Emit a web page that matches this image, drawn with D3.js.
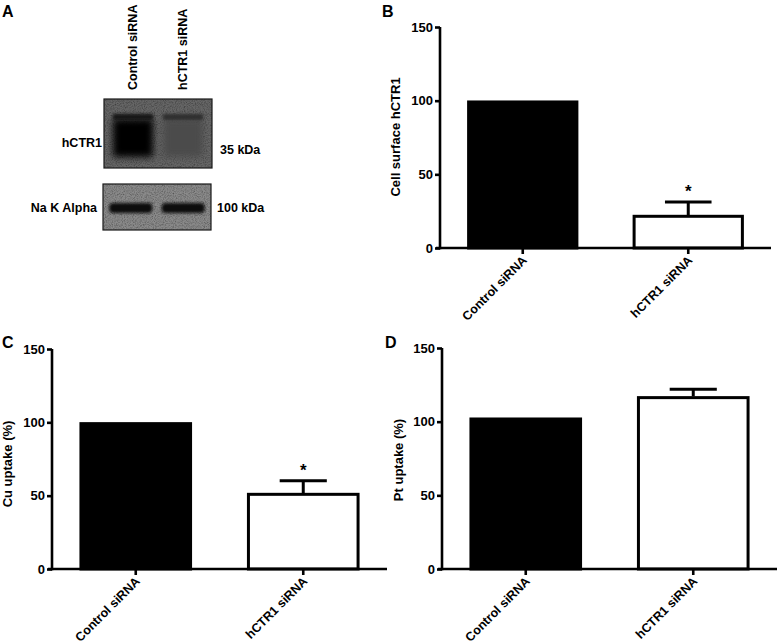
<!DOCTYPE html>
<html>
<head>
<meta charset="utf-8">
<script src="https://cdn.jsdelivr.net/npm/d3@7"></script>
<style>
  html, body { margin: 0; padding: 0; background: #fff; }
  svg { display: block; }
  text { font-family: Arial, "Liberation Sans", Helvetica, sans-serif; font-weight: bold; fill: #000; }
</style>
</head>
<body>
<svg id="chart" width="777" height="644"></svg>
<script>
// ---------------- data ----------------
const categories = ["Control siRNA", "hCTR1 siRNA"];
const yTickValues = [0, 50, 100, 150];

const surfaceMeans = [100, 22.4];
const surfaceErr   = [0, 8.8];
const surfaceSig   = ["", "*"];

const cuMeans = [100, 51.8];
const cuErr   = [0, 8.3];
const cuSig   = ["", "*"];

const ptMeans = [102.7, 117.2];
const ptErr   = [0, 4.8];
const ptSig   = ["", ""];

// western blot (panel A)
const blotLanes = ["Control siRNA", "hCTR1 siRNA"];
const hctr1Intensity = [1.0, 0.45];
const nakIntensity   = [1.0, 1.0];
const blotRows = ["hCTR1", "Na K Alpha"];
const blotSizes = ["35 kDa", "100 kDa"];

// ---------------- drawing ----------------
const svg = d3.select("#chart");
const defs = svg.append("defs");

const noise = defs.append("filter").attr("id", "noise")
  .attr("x", 0).attr("y", 0).attr("width", 1).attr("height", 1);
noise.append("feTurbulence").attr("type", "fractalNoise")
  .attr("baseFrequency", "0.9").attr("numOctaves", 2).attr("seed", 3).attr("result", "t");
noise.append("feColorMatrix").attr("in", "t").attr("type", "matrix")
  .attr("values", "0 0 0 0 0  0 0 0 0 0  0 0 0 0 0  0 0 0 -1.2 0.75").attr("result", "n");
noise.append("feComposite").attr("in", "n").attr("in2", "SourceGraphic").attr("operator", "in").attr("result", "nn");
const nm = noise.append("feMerge");
nm.append("feMergeNode").attr("in", "SourceGraphic");
nm.append("feMergeNode").attr("in", "nn");

const blur = defs.append("filter").attr("id", "blur")
  .attr("x", "-30%").attr("y", "-60%").attr("width", "160%").attr("height", "220%");
blur.append("feGaussianBlur").attr("stdDeviation", 3.5);
const blur2 = defs.append("filter").attr("id", "blur2")
  .attr("x", "-30%").attr("y", "-60%").attr("width", "160%").attr("height", "220%");
blur2.append("feGaussianBlur").attr("stdDeviation", 1.8);

// panel letters
[["A", 2, 17], ["B", 382, 17], ["C", 2, 348], ["D", 385, 348]].forEach(([t, x, y]) => {
  svg.append("text").attr("x", x).attr("y", y).attr("font-size", 16).text(t);
});

// ---- Panel A: blot ----
(function () {
  const gA = svg.append("g");
  const upper = { x: 104, y: 99, w: 108, h: 69 };
  const lower = { x: 103, y: 184, w: 108, h: 46 };
  const laneU = d3.scaleBand().domain(blotLanes).range([upper.x, upper.x + upper.w]).paddingInner(0.12).paddingOuter(0.14);
  const laneL = d3.scaleBand().domain(blotLanes).range([lower.x, lower.x + lower.w]).paddingInner(0.14).paddingOuter(0.1);

  // lane labels
  blotLanes.forEach(l => {
    const cx = laneU(l) + laneU.bandwidth() / 2;
    gA.append("text").attr("transform", `translate(${cx + 4},90) rotate(-90)`)
      .attr("font-size", 12.5).attr("text-anchor", "start").text(l);
  });

  // upper blot
  const clipU = defs.append("clipPath").attr("id", "clipU");
  clipU.append("rect").attr("x", upper.x).attr("y", upper.y).attr("width", upper.w).attr("height", upper.h);
  const gu = gA.append("g").attr("clip-path", "url(#clipU)");
  gu.append("rect").attr("x", upper.x).attr("y", upper.y).attr("width", upper.w).attr("height", upper.h)
    .attr("fill", "#666").attr("filter", "url(#noise)");
  blotLanes.forEach((l, i) => {
    const x = laneU(l), w = laneU.bandwidth();
    const k = hctr1Intensity[i];
    // smear
    gu.append("rect").attr("x", x + 2).attr("y", upper.y + 20).attr("width", w - 4).attr("height", 38)
      .attr("fill", d3.interpolateRgb("#666", "#050505")(k * (i === 0 ? 1 : 0.6)))
      .attr("filter", "url(#blur)");
    // top band
    gu.append("rect").attr("x", x + 2).attr("y", upper.y + 15).attr("width", w - 4).attr("height", 6)
      .attr("fill", d3.interpolateRgb("#666", "#151515")(Math.min(1, k * 1.5)))
      .attr("filter", "url(#blur2)");
  });
  gA.append("rect").attr("x", upper.x).attr("y", upper.y).attr("width", upper.w).attr("height", upper.h)
    .attr("fill", "none").attr("stroke", "#1a1a1a").attr("stroke-width", 1.2);

  // lower blot
  const clipL = defs.append("clipPath").attr("id", "clipL");
  clipL.append("rect").attr("x", lower.x).attr("y", lower.y).attr("width", lower.w).attr("height", lower.h);
  const gl = gA.append("g").attr("clip-path", "url(#clipL)");
  gl.append("rect").attr("x", lower.x).attr("y", lower.y).attr("width", lower.w).attr("height", lower.h)
    .attr("fill", "#8a8a8a").attr("filter", "url(#noise)");
  blotLanes.forEach((l, i) => {
    const x = laneL(l), w = laneL.bandwidth();
    gl.append("rect").attr("x", x + 1).attr("y", lower.y + 19).attr("width", w - 2).attr("height", 10)
      .attr("rx", 4)
      .attr("fill", d3.interpolateRgb("#8a8a8a", "#0a0a0a")(nakIntensity[i]))
      .attr("filter", "url(#blur2)");
  });
  gA.append("rect").attr("x", lower.x).attr("y", lower.y).attr("width", lower.w).attr("height", lower.h)
    .attr("fill", "none").attr("stroke", "#1a1a1a").attr("stroke-width", 1.2);

  // row labels
  gA.append("text").attr("x", 102).attr("y", 147).attr("text-anchor", "end").attr("font-size", 12.5).text(blotRows[0]);
  gA.append("text").attr("x", 97).attr("y", 212).attr("text-anchor", "end").attr("font-size", 12.5).text(blotRows[1]);
  gA.append("text").attr("x", 220).attr("y", 154).attr("font-size", 12.5).text(blotSizes[0]);
  gA.append("text").attr("x", 217).attr("y", 212).attr("font-size", 12.5).text(blotSizes[1]);
})();

// ---- bar panels ----
function barPanel(o, means, errs, sig, label) {
  const g = svg.append("g");
  const y = d3.scaleLinear().domain([0, 150]).range([o.y0, o.y1]);
  const x = d3.scaleBand().domain(categories).range([o.ax, o.xEnd]).paddingInner(0.33).paddingOuter(0.165);
  const lw = 2.6;

  // bars
  categories.forEach((c, i) => {
    const filled = i === 0;
    const bx = x(c), bw = x.bandwidth();
    const top = y(means[i]);
    g.append("rect")
      .attr("x", bx + lw / 2).attr("y", top + lw / 2)
      .attr("width", bw - lw).attr("height", o.y0 - top - lw / 2)
      .attr("fill", filled ? "#000" : "#fff")
      .attr("stroke", "#000").attr("stroke-width", lw + 0.4);
    if (errs[i] > 0) {
      const cx = bx + bw / 2;
      const yt = y(means[i] + errs[i]);
      g.append("line").attr("x1", cx).attr("x2", cx).attr("y1", top).attr("y2", yt)
        .attr("stroke", "#000").attr("stroke-width", lw + 0.4);
      g.append("line").attr("x1", cx - bw * 0.21).attr("x2", cx + bw * 0.21).attr("y1", yt).attr("y2", yt)
        .attr("stroke", "#000").attr("stroke-width", lw + 0.4);
    }
    if (sig[i]) {
      g.append("text").attr("x", bx + bw / 2).attr("y", y(means[i] + errs[i]) - 5)
        .attr("text-anchor", "middle").attr("font-size", 17).text(sig[i]);
    }
  });

  // y axis
  const ya = g.append("g").attr("transform", `translate(${o.ax},0)`)
    .call(d3.axisLeft(y).tickValues(yTickValues).tickSize(5).tickSizeOuter(0).tickPadding(2).tickFormat(d3.format("d")));
  ya.select(".domain").attr("stroke-width", lw).attr("d", `M0,${o.y0 + lw / 2}V${o.y1}`);
  ya.selectAll(".tick line").attr("stroke-width", lw);
  ya.selectAll(".tick text").attr("font-size", 13).attr("font-family", "Arial, 'Liberation Sans', sans-serif").attr("font-weight", "bold");

  // x axis
  const xa = g.append("g").attr("transform", `translate(0,${o.y0})`)
    .call(d3.axisBottom(x).tickSize(6).tickSizeOuter(0));
  xa.select(".domain").attr("stroke-width", lw).attr("d", `M${o.ax - 4},0H${o.xEnd}`);
  xa.selectAll(".tick line").attr("stroke-width", lw);
  xa.selectAll(".tick text")
    .attr("font-size", 12.5).attr("font-family", "Arial, 'Liberation Sans', sans-serif").attr("font-weight", "bold")
    .attr("text-anchor", "end").attr("dy", null).attr("y", 0)
    .attr("transform", "translate(5,13) rotate(-45)");

  // y label
  g.append("text").attr("transform", `translate(${o.lx},${o.ly}) rotate(-90)`)
    .attr("text-anchor", "middle").attr("dominant-baseline", "central")
    .attr("font-size", 13).text(label);
}

barPanel({ ax: 440, xEnd: 771, y0: 248, y1: 27, lx: 395, ly: 137 },
  surfaceMeans, surfaceErr, surfaceSig, "Cell surface hCTR1");
barPanel({ ax: 52, xEnd: 387, y0: 569, y1: 349, lx: 7, ly: 464 },
  cuMeans, cuErr, cuSig, "Cu uptake (%)");
barPanel({ ax: 442, xEnd: 777, y0: 569, y1: 348, lx: 398, ly: 460 },
  ptMeans, ptErr, ptSig, "Pt uptake (%)");
</script>
</body>
</html>
